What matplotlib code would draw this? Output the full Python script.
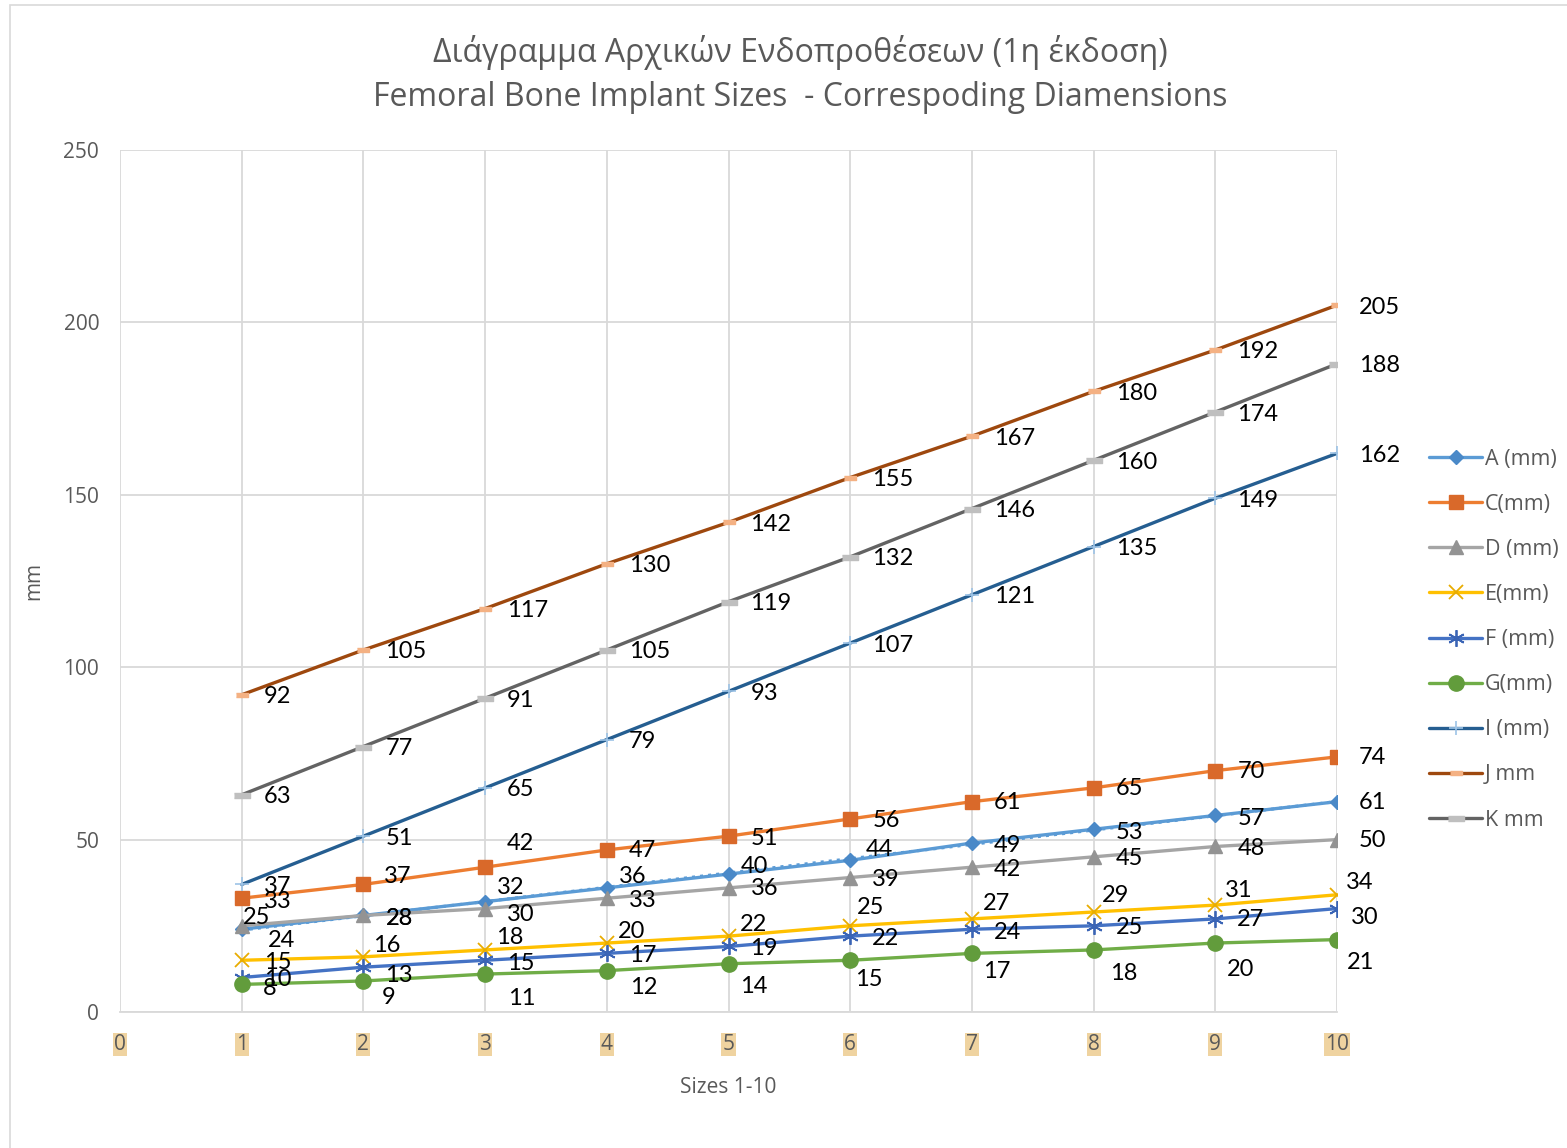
import numpy as np
import matplotlib.pyplot as plt
from matplotlib.patches import Rectangle

# implant sizes and their dimensions (mm)
sizes = [1, 2, 3, 4, 5, 6, 7, 8, 9, 10]
a_mm = [24, 28, 32, 36, 40, 44, 49, 53, 57, 61]
c_mm = [33, 37, 42, 47, 51, 56, 61, 65, 70, 74]
d_mm = [25, 28, 30, 33, 36, 39, 42, 45, 48, 50]
e_mm = [15, 16, 18, 20, 22, 25, 27, 29, 31, 34]
f_mm = [10, 13, 15, 17, 19, 22, 24, 25, 27, 30]
g_mm = [8, 9, 11, 12, 14, 15, 17, 18, 20, 21]
i_mm = [37, 51, 65, 79, 93, 107, 121, 135, 149, 162]
j_mm = [92, 105, 117, 130, 142, 155, 167, 180, 192, 205]
k_mm = [63, 77, 91, 105, 119, 132, 146, 160, 174, 188]

names = ['A (mm)', 'C(mm)', 'D (mm)', 'E(mm)', 'F (mm)', 'G(mm)', 'I (mm)', 'J mm', 'K mm']
series = [a_mm, c_mm, d_mm, e_mm, f_mm, g_mm, i_mm, j_mm, k_mm]

bar = [(-1, -0.3), (1, -0.3), (1, 0.3), (-1, 0.3)]
styles = [
    dict(color='#5B9BD5', marker='D', ms=7, mfc='#4A89C8', mec='#4A89C8'),
    dict(color='#ED7D31', marker='s', ms=10, mfc='#D9692A', mec='#D9692A'),
    dict(color='#A5A5A5', marker='^', ms=10, mfc='#939393', mec='#939393'),
    dict(color='#FFC000', marker='x', ms=10, mec='#E8AC00', mew=1.3),
    dict(color='#4472C4', marker=(6, 2, 0), ms=12, mec='#3A64B5', mew=1.3),
    dict(color='#70AD47', marker='o', ms=11, mfc='#629C3C', mec='#629C3C'),
    dict(color='#255E91', marker='+', ms=10, mec='#9DC3E6', mew=1.2),
    dict(color='#9E480E', marker=bar, ms=9, mfc='#F4B183', mec='#F4B183'),
    dict(color='#636363', marker=bar, ms=12, mfc='#BFBFBF', mec='#BFBFBF'),
]

# label offsets in pixels from each point: (right, up)
default_off = (22, -2)
label_off = {
    0: [(26, -11), (22, -3), (12, 14), (12, 11), (12, 8), (16, 11), (22, -2), (22, -3), (22, -3), (22, -1)],
    1: [(22, -3), (21, 8), (22, 24), (22, -1), (22, -2), (22, -2), (22, -1), (22, -1), (22, -1), (22, -1)],
    2: [(1, 8), (22, -3), (22, -6), (22, -2), (22, -1), (22, -2), (22, -2), (22, -2), (22, -2), (22, -1)],
    3: [(22, -2), (10, 11), (11, 12), (11, 12), (11, 12), (7, 18), (11, 15), (8, 17), (10, 15), (9, 12)],
    4: [(22, -2), (22, -8), (22, -3), (22, -2), (22, -2), (22, -2), (22, -3), (22, -2), (22, -1), (14, -9)],
    5: [(21, -4), (18, -17), (23, -24), (23, -17), (12, -23), (5, -19), (11, -18), (16, -24), (12, -26), (10, -23)],
}

plt.rcParams['font.family'] = ['Open Sans', 'DejaVu Sans']

fig = plt.figure(figsize=(15.67, 11.48), dpi=100)
ax = fig.add_axes([120 / 1567, 1 - 1012 / 1148, 1217 / 1567, 862 / 1148])

for si, (vals, name, st) in enumerate(zip(series, names, styles)):
    st = dict(st)
    col = st.pop('color')
    ax.plot(sizes, vals, color=col, lw=2.4, label=name, solid_capstyle='round', zorder=3, **st)
    if si == 0:
        # linear trend of A
        p = np.polyfit(sizes, vals, 1)
        ax.plot(sizes, np.polyval(p, sizes), color='#5B9BD5', lw=2.2, ls=':', zorder=2)
    offs = label_off.get(si, [default_off] * len(vals))
    for (x, y), (dx, dy) in zip(zip(sizes, vals), offs):
        ax.annotate(str(y), (x, y), xytext=(dx, dy), textcoords='offset pixels',
                    ha='left', va='center', fontsize=17, color='black',
                    family=['Lato', 'DejaVu Sans'], zorder=5)

ax.set_xlim(0, 10)
ax.set_ylim(0, 250)
ax.set_xticks(range(0, 11))
ax.set_yticks(range(0, 251, 50))
ax.grid(True, color='#D9D9D9', lw=1.3)
ax.set_axisbelow(True)
for s in ['top', 'right', 'left']:
    ax.spines[s].set_visible(False)
ax.spines['bottom'].set_color('#D9D9D9')
ax.spines['bottom'].set_linewidth(1.3)
ax.tick_params(length=0, labelsize=15, colors='#595959')
ax.tick_params(axis='y', pad=15)
ax.tick_params(axis='x', pad=16)
for lab in ax.get_xticklabels():
    lab.set_bbox(dict(boxstyle='square,pad=0.05', fc='#EFD3A0', ec='none'))

ax.set_ylabel('mm', fontsize=15, color='#595959', labelpad=14)
ax.set_xlabel('Sizes 1-10', fontsize=15, color='#595959', labelpad=16)

fig.text(0.511, 0.954, 'Διάγραμμα Αρχικών Ενδοπροθέσεων (1η έκδοση)', ha='center', va='center',
         fontsize=23, color='#595959')
fig.text(0.511, 0.915, 'Femoral Bone Implant Sizes  - Correspoding Diamensions', ha='center',
         va='center', fontsize=23, color='#595959')

leg = ax.legend(loc='upper left', bbox_to_anchor=(1420 / 1567, 1 - 440 / 1148),
                bbox_transform=fig.transFigure, frameon=False, fontsize=15.5,
                labelcolor='#595959', handlelength=2.5, handletextpad=0.1,
                labelspacing=1.12, borderaxespad=0)

fig.patches.append(Rectangle((10 / 1567, -0.01), 1.1, 1 - 5 / 1148 + 0.01,
                             transform=fig.transFigure, fill=False, ec='#D9D9D9', lw=1.2))

fig.savefig('out.png', dpi=100)
